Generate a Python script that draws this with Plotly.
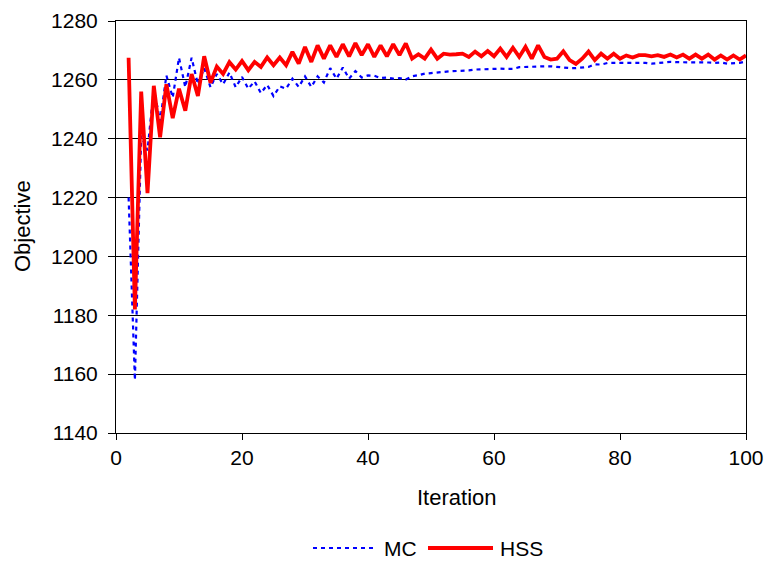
import plotly.graph_objects as go

# Iteration index shared by both series
iterations = list(range(2, 101))

# Objective value per iteration, Monte Carlo sampling
mc_values = [
    1220, 1158, 1241, 1236, 1257, 1246, 1261.5, 1254, 1267.5, 1257.5,
    1267.5, 1258.5, 1264, 1257.5, 1262, 1258.5, 1262.5, 1257.5, 1261, 1257,
    1259.5, 1255.5, 1258.3, 1254.5, 1257.8, 1257, 1260.4, 1257.6, 1261.2, 1257.6,
    1261.2, 1259.1, 1264, 1260.4, 1264.2, 1260.4, 1263, 1260.8, 1261.5, 1261.4,
    1260.6, 1260.8, 1260.4, 1260.6, 1260.1, 1261.2, 1261.6, 1262.1, 1262.3, 1262.6,
    1262.7, 1262.9, 1263.0, 1263.0, 1263.2, 1263.5, 1263.6, 1263.7, 1263.8, 1263.8,
    1263.7, 1263.7, 1264.3, 1264.4, 1264.6, 1264.6, 1264.6, 1264.6, 1264.4, 1264.1,
    1264.0, 1264.0, 1264.1, 1264.4, 1265.3, 1265.2, 1265.75, 1265.75, 1265.8, 1266.0,
    1266.0, 1265.75, 1265.75, 1265.5, 1265.75, 1265.9, 1266.1, 1266.0, 1266.0, 1265.9,
    1266.1, 1266.0, 1265.9, 1265.75, 1265.9, 1265.5, 1265.75, 1265.75, 1266.3,
]

# Objective value per iteration, Hammersley sequence sampling
hss_values = [
    1267.5, 1182, 1256, 1221.5, 1258, 1240.5, 1258.5, 1247, 1257, 1249.5,
    1262, 1254.5, 1268, 1259, 1264.5, 1262, 1266, 1263.5, 1266.4, 1263.3,
    1266.1, 1264.4, 1267.6, 1265, 1267.6, 1265, 1269.5, 1265.5, 1271.2, 1266.1,
    1271.7, 1267.2, 1271.7, 1267.8, 1272.1, 1268, 1272.5, 1268.4, 1272.1, 1267.8,
    1271.7, 1268, 1272.1, 1268.4, 1272.4, 1267.2, 1268.7, 1267.2, 1270.3, 1267.2,
    1268.9, 1268.6, 1268.7, 1268.9, 1267.8, 1269.6, 1268, 1269.8, 1268, 1270.6,
    1267.8, 1270.9, 1267.8, 1271.2, 1267.2, 1271.7, 1267.8, 1266.9, 1267.2, 1269.7,
    1266.7, 1265.4, 1267.2, 1269.6, 1266.7, 1268.9, 1267.2, 1268.9, 1267.2, 1268.3,
    1267.6, 1268.4, 1268.4, 1268, 1268.4, 1267.8, 1268.6, 1267.6, 1268.6, 1267.2,
    1268.6, 1267.2, 1268.6, 1266.9, 1268.3, 1266.9, 1268.3, 1266.9, 1268.3,
]

x_ticks = [0, 20, 40, 60, 80, 100]
y_ticks = [1140, 1160, 1180, 1200, 1220, 1240, 1260, 1280]

FONT = "Arial, Liberation Sans, sans-serif"
MC_LINE = dict(color="#0000FF", width=2.2, dash="4px,4px")
HSS_LINE = dict(color="#FF0000", width=3.8)

# plot-area geometry in pixels (used to place legend and titles in paper units)
W, H = 769, 569
ML, MR, MT, MB = 116, 23, 21, 136
PW, PH = W - ML - MR, H - MT - MB


def px_x(px):
    return (px - ML) / PW


def px_y(py):
    return (H - MB - py) / PH


fig = go.Figure()
fig.add_trace(go.Scatter(x=iterations, y=mc_values, name="MC", mode="lines", line=MC_LINE))
fig.add_trace(go.Scatter(x=iterations, y=hss_values, name="HSS", mode="lines", line=HSS_LINE))

# legend drawn as line samples with labels below the chart
leg_y = px_y(548)
shapes = [
    dict(type="line", xref="paper", yref="paper", x0=px_x(313), x1=px_x(376),
         y0=leg_y, y1=leg_y, line=MC_LINE),
    dict(type="line", xref="paper", yref="paper", x0=px_x(428), x1=px_x(493),
         y0=leg_y, y1=leg_y, line=HSS_LINE),
]
LEG_FONT = dict(family=FONT, size=21, color="black")
TITLE_FONT = dict(family=FONT, size=22, color="black")
annotations = [
    dict(text="MC", xref="paper", yref="paper", x=px_x(382), y=leg_y,
         xanchor="left", yanchor="middle", showarrow=False, font=LEG_FONT),
    dict(text="HSS", xref="paper", yref="paper", x=px_x(498), y=leg_y,
         xanchor="left", yanchor="middle", showarrow=False, font=LEG_FONT),
    dict(text="Iteration", xref="paper", yref="paper", x=px_x(457), y=px_y(497),
         xanchor="center", yanchor="middle", showarrow=False, font=TITLE_FONT),
    dict(text="Objective", xref="paper", yref="paper", x=px_x(22), y=px_y(226),
         xanchor="center", yanchor="middle", textangle=-90, showarrow=False,
         font=TITLE_FONT),
]

fig.update_layout(
    width=W, height=H,
    margin=dict(l=ML, r=MR, t=MT, b=MB),
    paper_bgcolor="white", plot_bgcolor="white",
    font=dict(family=FONT, size=20, color="black"),
    showlegend=False,
    shapes=shapes,
    annotations=annotations,
)
fig.update_xaxes(
    range=[0, 100], tickvals=x_ticks, ticktext=[str(v) for v in x_ticks],
    showgrid=False, zeroline=False, automargin=False,
    showline=True, linecolor="black", linewidth=1, mirror=True,
    ticks="outside", ticklen=6, tickcolor="black",
    tickfont=dict(size=21),
)
fig.update_yaxes(
    range=[1140, 1280], tickvals=y_ticks, ticktext=[str(v) for v in y_ticks],
    showgrid=True, gridcolor="black", gridwidth=1, zeroline=False, automargin=False,
    showline=True, linecolor="black", linewidth=1, mirror=True,
    ticks="outside", ticklen=7, tickcolor="black", ticklabelstandoff=6,
    tickfont=dict(size=21),
)

fig.write_html("out.html")
